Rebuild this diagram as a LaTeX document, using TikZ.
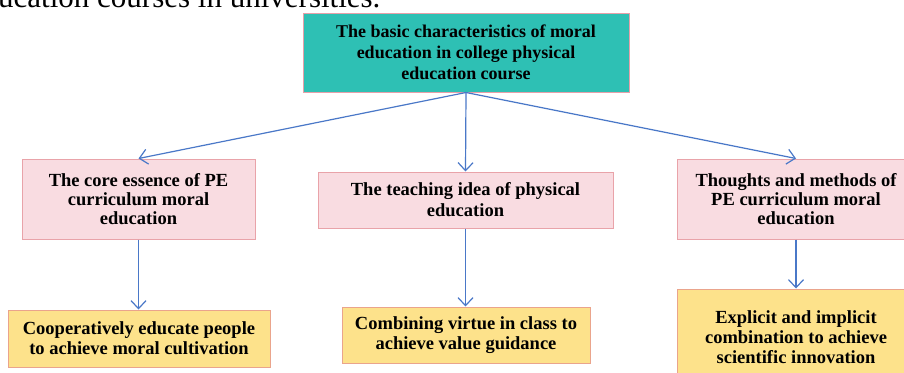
\documentclass[tikz,border=0pt]{standalone}
\usepackage{fontspec}
\setmainfont{Liberation Serif}
\usetikzlibrary{arrows.meta}
\definecolor{tealbox}{HTML}{2EC0B4}
\definecolor{topborder}{HTML}{E6A0AA}
\definecolor{pinkfill}{HTML}{F9DCE1}
\definecolor{pinkborder}{HTML}{E9A3A9}
\definecolor{yelfill}{HTML}{FDE28B}
\definecolor{yelborder}{HTML}{EAA48C}
\definecolor{arrowblue}{HTML}{4A78C8}
\tikzset{
  topbox/.style={draw=topborder, fill=tealbox, line width=1pt, inner sep=0pt, align=center,
    font=\bfseries\fontsize{18}{21}\selectfont, minimum width=326pt, minimum height=79pt},
  pinkbox/.style={draw=pinkborder, fill=pinkfill, line width=1pt, inner sep=0pt, align=center,
    font=\bfseries\fontsize{18.5}{19}\selectfont},
  yelbox/.style={draw=yelborder, fill=yelfill, line width=1pt, inner sep=0pt, align=center,
    font=\bfseries\fontsize{18.5}{20}\selectfont},
  conn/.style={draw=arrowblue, line width=1.2pt, -{Straight Barb[length=8pt,width=15pt,line width=1.2pt]}}
}
\begin{document}
\begin{tikzpicture}[x=1pt,y=-1pt]
\useasboundingbox (0,0) rectangle (904,372);
\clip (0,0) rectangle (904,372);
\fill[white] (0,0) rectangle (904,372);
\node[anchor=base west, inner sep=0pt, font=\fontsize{31}{31}\selectfont] (caption) at (-2,7) {ucation courses in universities.};
\node[topbox] (top) at (466,52.5) {The basic characteristics of moral\\education in college physical\\education course};
\node[pinkbox, minimum width=233pt, minimum height=80pt] (lp) at (138.5,199) {The core essence of PE\\curriculum moral\\education};
\node[pinkbox, minimum width=295pt, minimum height=56pt, font=\bfseries\fontsize{18.5}{21}\selectfont] (mp) at (465.5,200) {The teaching idea of physical\\education};
\node[pinkbox, minimum width=238pt, minimum height=80pt] (rp) at (796,199) {Thoughts and methods of\\PE curriculum moral\\education};
\node[yelbox, minimum width=262pt, minimum height=57pt] (ly) at (139,338.5) {Cooperatively educate people\\to achieve moral cultivation};
\node[yelbox, minimum width=248pt, minimum height=56pt] (my) at (466,335) {Combining virtue in class to\\achieve value guidance};
\node[yelbox, minimum width=238pt, minimum height=96pt] (ry) at (796,337) {Explicit and implicit\\combination to achieve\\scientific innovation};
\draw[conn] (top.south) -- (lp.north);
\draw[conn] (top.south) -- (mp.north);
\draw[conn] (top.south) -- (rp.north);
\draw[conn] (lp.south) -- (lp.south |- ly.north);
\draw[conn] (mp.south) -- (mp.south |- my.north);
\draw[conn] (rp.south) -- (rp.south |- ry.north);
\end{tikzpicture}
\end{document}
